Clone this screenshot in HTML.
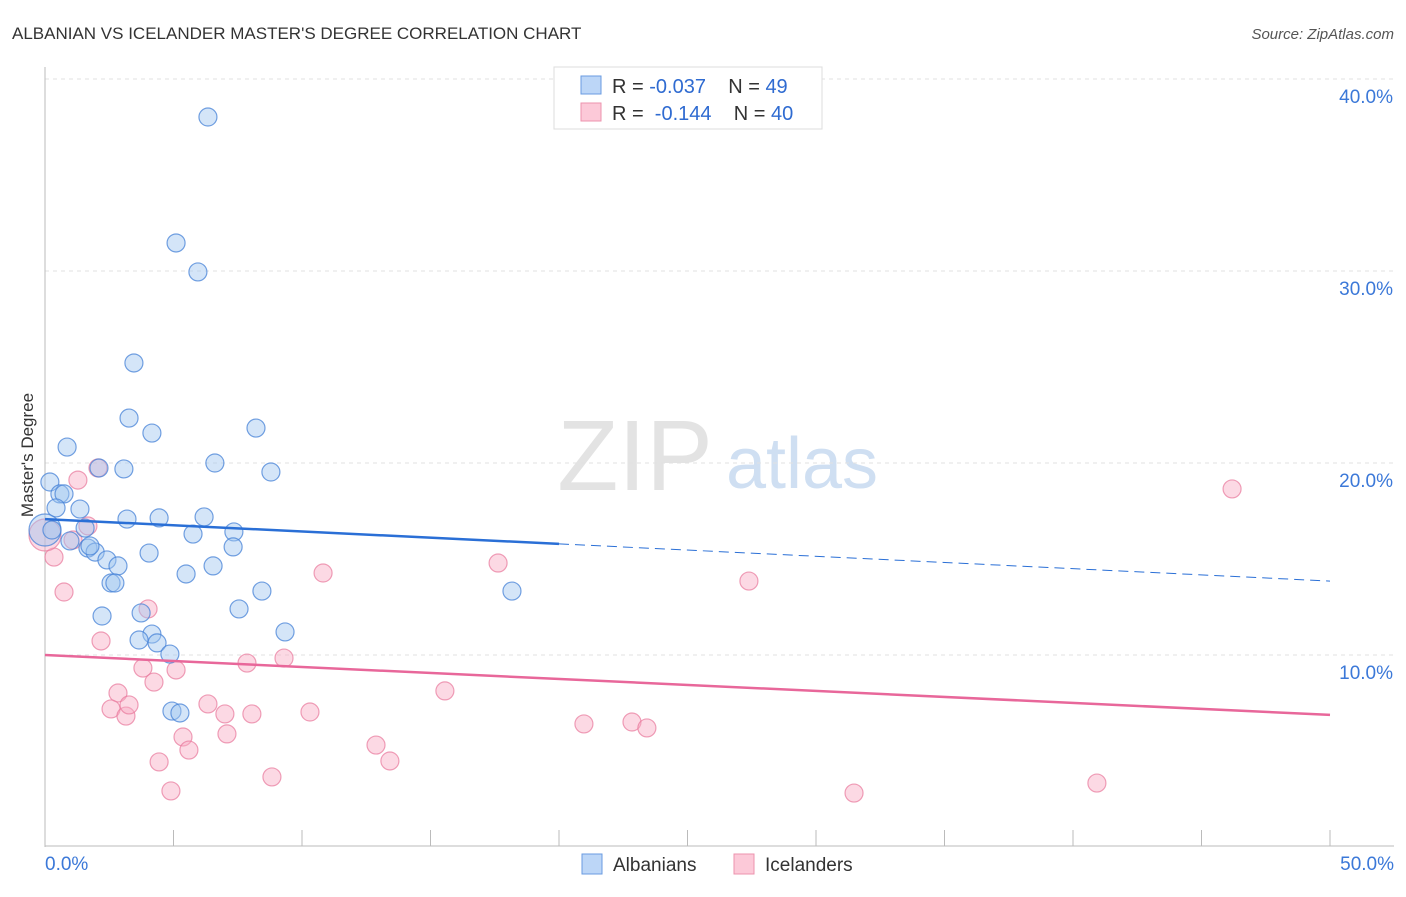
<!DOCTYPE html>
<html><head><meta charset="utf-8"><style>
body{margin:0;background:#fff;font-family:"Liberation Sans",sans-serif;}
svg text{font-family:"Liberation Sans",sans-serif;}
</style></head><body>
<svg id="c" width="1406" height="892" xmlns="http://www.w3.org/2000/svg">
<text x="12" y="39" font-size="17" fill="#333">ALBANIAN VS ICELANDER MASTER'S DEGREE CORRELATION CHART</text>
<text x="1394" y="39" font-size="15" fill="#555" text-anchor="end" font-style="italic">Source: ZipAtlas.com</text>
<text x="33" y="455" font-size="17" fill="#333" text-anchor="middle" transform="rotate(-90 33 455)">Master's Degree</text>
<g><text x="635" y="490" font-size="100" fill="#e3e3e3" text-anchor="middle" font-family="Liberation Serif">ZIP</text><text x="802" y="488" font-size="72" fill="#cfdff2" text-anchor="middle">atlas</text></g>
<g id="grid"></g><g id="pts"></g><g id="lines"></g>
<g>
<rect x="554" y="67" width="268" height="62" fill="#fff" stroke="#ddd"/>
<rect x="581" y="76" width="20" height="18" fill="#bcd6f7" stroke="#6a9be0"/>
<rect x="581" y="103" width="20" height="18" fill="#fcc9d8" stroke="#ec93ae"/>
<text x="612" y="93" font-size="20" fill="#333">R = <tspan fill="#2f6bd1">-0.037</tspan>&#160;&#160;&#160;&#160;N = <tspan fill="#2f6bd1">49</tspan></text>
<text x="612" y="120" font-size="20" fill="#333">R = &#160;<tspan fill="#2f6bd1">-0.144</tspan>&#160;&#160;&#160;&#160;N = <tspan fill="#2f6bd1">40</tspan></text>
</g>
<g>
<rect x="582" y="854" width="20" height="20" fill="#bcd6f7" stroke="#6a9be0"/>
<text x="613" y="871" font-size="19" fill="#333">Albanians</text>
<rect x="734" y="854" width="20" height="20" fill="#fcc9d8" stroke="#ec93ae"/>
<text x="765" y="871" font-size="19" fill="#333">Icelanders</text>
</g>
</svg>
<script>
const yTicks=[10,20,30,40];
const xTickLabels=["0.0%","50.0%"];
const blueX=[6.34,5.10,5.95,3.46,3.27,8.21,4.16,0.86,6.61,2.10,3.07,8.79,0.19,0.58,0.74,0.43,1.36,1.56,3.19,4.44,6.19,5.76,7.35,0.97,1.67,1.95,1.75,4.05,2.41,2.84,7.32,6.54,5.49,2.57,2.72,8.44,2.22,3.74,7.55,4.16,9.34,3.66,4.36,4.86,4.94,5.25,18.17,0,0.27];
const blueY=[38.02,31.46,29.95,25.21,22.34,21.82,21.56,20.83,20.0,19.74,19.69,19.53,19.01,18.39,18.39,17.66,17.60,16.61,17.08,17.14,17.19,16.30,16.41,15.94,15.57,15.36,15.68,15.31,14.95,14.64,15.63,14.64,14.22,13.75,13.75,13.33,12.03,12.19,12.40,11.09,11.20,10.78,10.63,10.05,7.08,6.98,13.33,16.51,16.51];
const pinkX=[2.06,1.28,1.67,0.35,0.74,1.09,4.01,2.18,10.82,17.63,27.39,46.19,3.81,5.10,4.24,7.86,9.30,2.84,2.57,3.15,3.27,6.34,7.00,7.08,8.05,5.37,5.60,10.31,15.56,20.97,22.84,23.42,12.88,13.42,4.44,4.90,8.83,31.48,40.93,0];
const pinkY=[19.74,19.11,16.72,15.10,13.28,15.99,12.40,10.73,14.27,14.79,13.85,18.65,9.32,9.22,8.59,9.58,9.84,8.02,7.19,6.82,7.40,7.45,6.93,5.89,6.93,5.73,5.05,7.03,8.13,6.41,6.51,6.20,5.31,4.48,4.43,2.92,3.65,2.81,3.33,16.25];
const blueTrend=[17.08,13.85];
const pinkTrend=[10.0,6.88];
const NS="http://www.w3.org/2000/svg";
const X=v=>45+v*1285/50, Y=v=>847-v*19.2;
function mk(t,a,p){const e=document.createElementNS(NS,t);for(const k in a)e.setAttribute(k,a[k]);p.appendChild(e);return e;}
const g=document.getElementById('grid');
yTicks.forEach(t=>{
 const l=mk('line',{x1:45,x2:1394,y1:Y(t),y2:Y(t),stroke:'#e2e2e2','stroke-dasharray':'4,4'},g);
 
 
 const tx=mk('text',{x:1393,y:Y(t)+24,'font-size':19,fill:'#3b78d8','text-anchor':'end'},g);tx.textContent=t.toFixed(1)+'%';
 
 
});
const ax=mk('line',{x1:45,x2:45,y1:67,y2:847,stroke:'#bbb'},g);


const bx=mk('line',{x1:45,x2:1394,y1:846,y2:846,stroke:'#bbb'},g);


for(let i=0;i<=10;i++){const v=i*5;const t=mk('line',{x1:X(v),x2:X(v),y1:830,y2:846,stroke:'#bbb'},g);
 
 }
[[0,'start',45],[50,'end',1394]].forEach((d,i)=>{const t=mk('text',{x:d[2],y:870,'font-size':19,fill:'#3b78d8','text-anchor':d[1]},g);t.textContent=xTickLabels[i];
 
 });
const p=document.getElementById('pts');
pinkX.forEach((x,i)=>{const big=x===0;const c=mk('circle',{cx:X(x),cy:Y(pinkY[i]),r:big?16:9,fill:'rgba(248,170,195,0.45)',stroke:'rgba(232,120,155,0.7)','stroke-width':1.2},p);
 
 });
blueX.forEach((x,i)=>{const big=x===0;const c=mk('circle',{cx:X(x),cy:Y(blueY[i]),r:big?16:9,fill:'rgba(160,198,240,0.45)',stroke:'rgba(70,130,215,0.75)','stroke-width':1.2},p);
 
 });
const L=document.getElementById('lines');
const by=x=>blueTrend[0]+(blueTrend[1]-blueTrend[0])*x/50;
const b1=mk('line',{x1:X(0),y1:Y(by(0)),x2:X(20),y2:Y(by(20)),stroke:'#2a6fd6','stroke-width':2.5},L);


const b2=mk('line',{x1:X(20),y1:Y(by(20)),x2:X(50),y2:Y(by(50)),stroke:'#2a6fd6','stroke-width':1,'stroke-dasharray':'10,6'},L);


const p1=mk('line',{x1:X(0),y1:Y(pinkTrend[0]),x2:X(50),y2:Y(pinkTrend[1]),stroke:'#e8679a','stroke-width':2.5},L);


</script>
</body></html>
